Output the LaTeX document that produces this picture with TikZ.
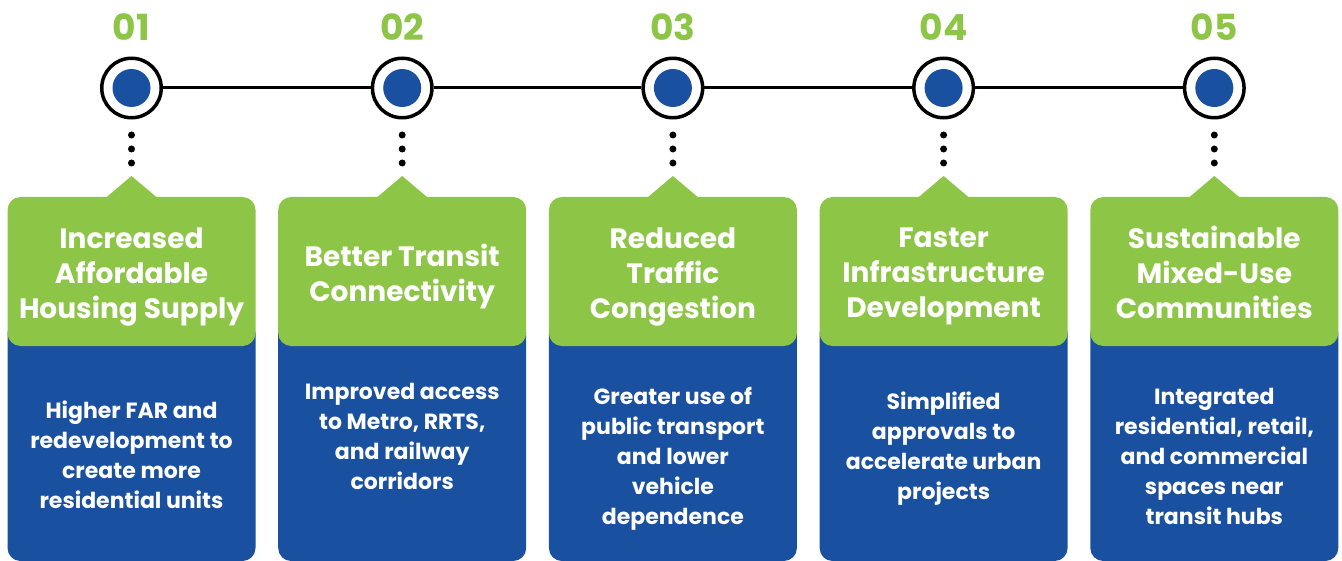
\documentclass[tikz,border=0pt]{standalone}
\usepackage{fontspec}
\setmainfont{Poppins}
\definecolor{leaf}{RGB}{141,198,70}
\definecolor{navy}{RGB}{25,80,160}
\tikzset{
  stepnum/.style={text=leaf,font=\bfseries\fontsize{18}{18}\selectfont},
  ring/.style={circle,draw=black,line width=1.75pt,fill=white,minimum size=29.75pt,inner sep=0pt},
  titlebox/.style={fill=leaf,rounded corners=6.5pt,minimum width=124pt,minimum height=74.5pt},
  titletext/.style={text=white,align=center,font=\bfseries\fontsize{14}{17.5}\selectfont},
  bodytext/.style={text=white,align=center,font=\bfseries\fontsize{11}{15}\selectfont}
}
\begin{document}
\begin{tikzpicture}[x=0.5pt,y=-0.5pt]
\useasboundingbox (0,0) rectangle (1342,561);
\foreach \i/\ttl/\bdy/\by in {
  1/{Increased\\Affordable\\Housing Supply}/{Higher FAR and\\redevelopment to\\create more\\residential units}/455,
  2/{Better Transit\\Connectivity}/{Improved access\\to Metro, RRTS,\\and railway\\corridors}/436,
  3/{Reduced\\Traffic\\Congestion}/{Greater use of\\public transport\\and lower\\vehicle\\dependence}/459,
  4/{Faster\\Infrastructure\\Development}/{Simplified\\approvals to\\accelerate urban\\projects}/449,
  5/{Sustainable\\Mixed-Use\\Communities}/{Integrated\\residential, retail,\\and commercial\\spaces near\\transit hubs}/456}{
  \pgfmathsetmacro\x{131.5+(\i-1)*270.7}
  \node[stepnum] (n\i) at (\x,27) {0\i};
  \node[ring] (c\i) at (\x,88) {};
  \fill[navy] (c\i) circle (9.5pt);
  \foreach \y in {135,149,163}
    \fill (\x,\y) circle (1.75pt);
  \fill[navy,rounded corners=6.5pt] (\x-124,320) rectangle (\x+124,561);
  \fill[leaf] (\x-26,198) -- (\x,176) -- (\x+26,198) -- cycle;
  \node[titlebox] (t\i) at (\x,271.5) {};
  \node[titletext] (h\i) at (\x,278) {\ttl\strut};
  \node[bodytext] (b\i) at (\x,\by) {\bdy};
}
\draw[line width=1.5pt] (c1)--(c2) (c2)--(c3) (c3)--(c4) (c4)--(c5);
\end{tikzpicture}
\end{document}
